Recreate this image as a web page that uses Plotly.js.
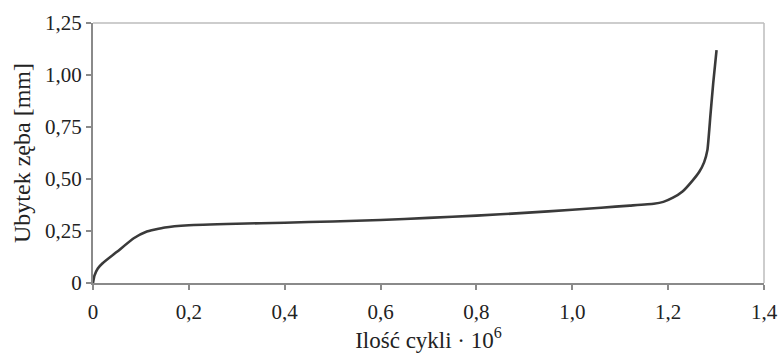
<!DOCTYPE html>
<html><head><meta charset="utf-8">
<script src="https://cdn.plot.ly/plotly-3.0.1.min.js"></script>
<style>html,body{margin:0;padding:0;background:#fff}#chart{width:781px;height:356px}</style>
</head><body><div id="chart"></div>
<script>
var cycles = [0, 0.003, 0.01, 0.02, 0.05, 0.085, 0.11, 0.15, 0.2, 0.3, 0.4, 0.5, 0.6, 0.7, 0.8, 0.9, 1.0, 1.06, 1.12, 1.17, 1.19, 1.21, 1.23, 1.25, 1.265, 1.275, 1.282, 1.288, 1.294, 1.301];
var wear   = [0, 0.035, 0.07, 0.095, 0.15, 0.215, 0.245, 0.267, 0.278, 0.285, 0.29, 0.296, 0.303, 0.313, 0.324, 0.337, 0.352, 0.362, 0.372, 0.381, 0.39, 0.41, 0.44, 0.49, 0.535, 0.58, 0.64, 0.8, 0.96, 1.12];
var xTickVals = [0, 0.2, 0.4, 0.6, 0.8, 1.0, 1.2, 1.4];
var xTickText = ["0", "0,2", "0,4", "0,6", "0,8", "1,0", "1,2", "1,4"];
var yTickVals = [0, 0.25, 0.5, 0.75, 1.0, 1.25];
var yTickText = ["0", "0,25", "0,50", "0,75", "1,00", "1,25"];

var fam = '"Liberation Serif", "Times New Roman", serif';
Plotly.newPlot("chart", [{
  x: cycles, y: wear, mode: "lines", type: "scatter",
  line: {color: "#3a3a3a", width: 2.6, shape: "spline", smoothing: 0.4},
  hoverinfo: "none"
}], {
  width: 781, height: 356,
  margin: {l: 93, r: 17, t: 23, b: 73},
  paper_bgcolor: "#fff", plot_bgcolor: "#fff",
  showlegend: false,
  font: {family: fam, color: "#222", size: 20},
  xaxis: {
    range: [0, 1.4], tickvals: xTickVals, ticktext: xTickText,
    showgrid: false, zeroline: false, showline: true, linecolor: "#8a8a8a", linewidth: 2,
    ticks: "outside", ticklen: 5, tickcolor: "#8a8a8a", tickwidth: 2,
    ticklabelstandoff: 4,
    tickfont: {family: fam, size: 21, color: "#222"},
    title: {text: "Ilość cykli · 10<sup>6</sup>", font: {family: fam, size: 23, color: "#222"}, standoff: 6}
  },
  yaxis: {
    range: [0, 1.25], tickvals: yTickVals, ticktext: yTickText,
    showgrid: false, zeroline: false, showline: true, linecolor: "#8a8a8a", linewidth: 2,
    ticks: "outside", ticklen: 5, tickcolor: "#8a8a8a", tickwidth: 2,
    tickfont: {family: fam, size: 21, color: "#222"},
    title: {text: "Ubytek zęba [mm]", font: {family: fam, size: 24, color: "#222"}, standoff: 8}
  },
  shapes: [
    {type: "line", xref: "paper", yref: "paper", x0: 0, x1: 1, y0: 1, y1: 1, line: {color: "#bdbdbd", width: 1.5}},
    {type: "line", xref: "paper", yref: "paper", x0: 1, x1: 1, y0: 0, y1: 1, line: {color: "#bdbdbd", width: 1.5}}
  ]
}, {staticPlot: true});
</script></body></html>
